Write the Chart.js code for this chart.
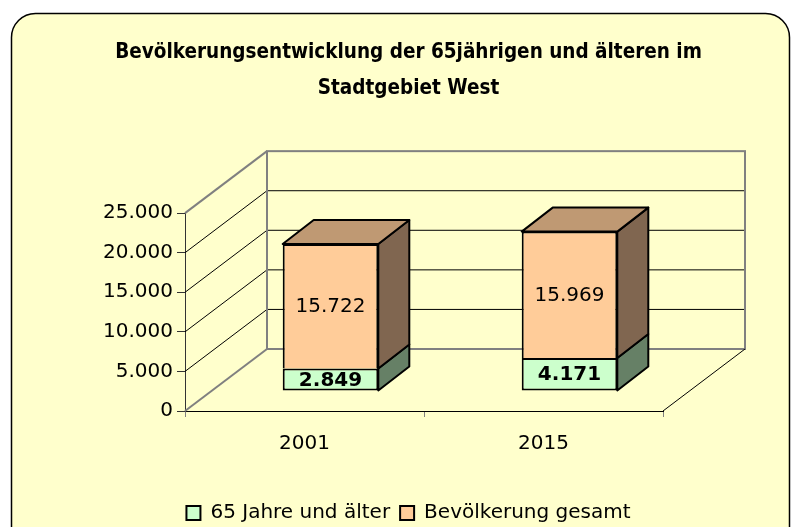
<!DOCTYPE html>
<html>
<head>
<meta charset="utf-8">
<style>
  body { margin: 0; background: #fff; }
</style>
</head>
<body>
<canvas id="myChart" width="797" height="527"></canvas>
<script src="https://cdn.jsdelivr.net/npm/chart.js"></script>
<script>
const years = ['2001', '2015'];
const senioren = [2849, 4171];
const gesamt = [15722, 15969];
const yTicks = [0, 5000, 10000, 15000, 20000, 25000];
const titleLines = ['Bevölkerungsentwicklung der 65jährigen und älteren im', 'Stadtgebiet West'];
const seriesNames = ['65 Jahre und älter', 'Bevölkerung gesamt'];

// colours per series: front, top, side
const fronts = ['#CCFFCC', '#FFCC99'];
const tops = ['#99BF99', '#BF9973'];
const sides = ['#668066', '#806650'];

// 3d look (offsets in px)
const DEPTH = { x: 82, y: -62 };     // back wall
const BAR_POS = { x: 26, y: -20 };   // bars stand a bit into the floor
const BAR_DEPTH = { x: 31, y: -24 }; // thickness of a bar

function fmt(v) {
  return String(v).replace(/\B(?=(\d{3})+(?!\d))/g, '.');
}

function poly(ctx, pts) {
  ctx.beginPath();
  ctx.moveTo(pts[0][0], pts[0][1]);
  for (let i = 1; i < pts.length; i++) ctx.lineTo(pts[i][0], pts[i][1]);
  ctx.closePath();
}

const threeD = {
  id: 'threeD',
  beforeDraw(chart) {
    const ctx = chart.ctx;
    ctx.save();
    ctx.fillStyle = '#fff';
    ctx.fillRect(0, 0, chart.width, chart.height);
    ctx.beginPath();
    ctx.roundRect(11.5, 13.5, 778, 580, 24);
    ctx.fillStyle = '#FFFFCC';
    ctx.fill();
    ctx.lineWidth = 1.5;
    ctx.strokeStyle = '#000';
    ctx.stroke();
    ctx.restore();
  },
  beforeDatasetsDraw(chart) {
    const ctx = chart.ctx;
    const xs = chart.scales.x, ys = chart.scales.y;
    const l = xs.left, r = xs.right;
    const y0 = ys.getPixelForValue(yTicks[0]);
    const yTop = ys.getPixelForValue(yTicks[yTicks.length - 1]);
    ctx.save();
    yTicks.forEach(function(v, i) {
      const py = ys.getPixelForValue(v);
      const edge = i === 0 || i === yTicks.length - 1;
      ctx.beginPath();
      ctx.moveTo(l, py);
      ctx.lineTo(l + DEPTH.x, py + DEPTH.y);
      if (!edge) ctx.lineTo(r + DEPTH.x, py + DEPTH.y);
      ctx.lineWidth = edge ? 2 : 1;
      ctx.strokeStyle = edge ? '#808080' : '#000';
      ctx.stroke();
    });
    ctx.strokeStyle = '#808080';
    ctx.lineWidth = 2;
    ctx.strokeRect(l + DEPTH.x, yTop + DEPTH.y, r - l, y0 - yTop);
    ctx.beginPath();
    ctx.moveTo(r, y0);
    ctx.lineTo(r + DEPTH.x, y0 + DEPTH.y);
    ctx.lineWidth = 1;
    ctx.strokeStyle = '#000';
    ctx.stroke();
    ctx.restore();

    // front faces are drawn by chart.js, shifted into the floor
    ctx.save();
    ctx.translate(BAR_POS.x, BAR_POS.y);
  },
  afterDatasetsDraw(chart) {
    const ctx = chart.ctx;
    const n = chart.data.datasets.length;
    const labels = [];
    chart.data.datasets.forEach(function(ds, di) {
      chart.getDatasetMeta(di).data.forEach(function(bar, i) {
        const p = bar.getProps(['x', 'y', 'base', 'width'], true);
        const left = p.x - p.width / 2, right = p.x + p.width / 2;
        const top = Math.min(p.y, p.base), bottom = Math.max(p.y, p.base);
        ctx.lineWidth = 2;
        ctx.strokeStyle = '#000';
        ctx.lineJoin = 'round';
        poly(ctx, [[right, top], [right + BAR_DEPTH.x, top + BAR_DEPTH.y],
                   [right + BAR_DEPTH.x, bottom + BAR_DEPTH.y], [right, bottom]]);
        ctx.fillStyle = sides[di];
        ctx.fill();
        ctx.stroke();
        if (di === n - 1) {
          poly(ctx, [[left, top], [left + BAR_DEPTH.x, top + BAR_DEPTH.y],
                     [right + BAR_DEPTH.x, top + BAR_DEPTH.y], [right, top]]);
          ctx.fillStyle = tops[di];
          ctx.fill();
          ctx.stroke();
        }
        labels.push({ x: p.x, y: (top + bottom) / 2, text: fmt(ds.data[i]), bold: di === 0 });
      });
    });
    ctx.fillStyle = '#000';
    ctx.textAlign = 'center';
    ctx.textBaseline = 'middle';
    labels.forEach(function(lb) {
      ctx.font = (lb.bold ? 'bold ' : '') + '20px "DejaVu Sans"';
      ctx.fillText(lb.text, lb.x, lb.y + 1);
    });
    ctx.restore();
  }
};

const data = {
  labels: years,
  datasets: [
    {
      label: seriesNames[0],
      data: senioren,
      backgroundColor: fronts[0],
      borderColor: '#000',
      borderWidth: 2,
      borderSkipped: false,
      barPercentage: 0.4,
      categoryPercentage: 1.0
    },
    {
      label: seriesNames[1],
      data: gesamt,
      backgroundColor: fronts[1],
      borderColor: '#000',
      borderWidth: 2,
      borderSkipped: 'start',
      barPercentage: 0.4,
      categoryPercentage: 1.0
    }
  ]
};

const config = {
  type: 'bar',
  data: data,
  plugins: [threeD],
  options: {
    responsive: false,
    animation: false,
    layout: { padding: { left: 20, right: 0, top: 0, bottom: 0 } },
    plugins: {
      title: {
        display: true,
        text: titleLines,
        color: '#000',
        font: { family: '"DejaVu Sans Condensed", "DejaVu Sans"', size: 20.5, weight: 'bold', lineHeight: 1.76 },
        padding: { top: 35, bottom: 106 }
      },
      legend: {
        position: 'bottom',
        maxHeight: 34,
        labels: {
          color: '#000',
          boxWidth: 14,
          boxHeight: 14,
          padding: 10,
          font: { family: '"DejaVu Sans"', size: 20 }
        }
      },
      tooltip: { enabled: false }
    },
    scales: {
      x: {
        stacked: true,
        grid: { drawOnChartArea: false, tickLength: 6, color: '#808080', offset: true },
        border: { color: '#000', width: 1 },
        ticks: { color: '#000', padding: 15, font: { family: '"DejaVu Sans"', size: 20 } },
        afterFit: function(scale) { scale.height = 82; }
      },
      y: {
        stacked: true,
        min: 0,
        max: 25000,
        grid: { drawOnChartArea: false, tickLength: 8, color: '#333' },
        border: { color: '#333', width: 1 },
        ticks: {
          stepSize: 5000,
          color: '#000',
          padding: 4,
          font: { family: '"DejaVu Sans"', size: 20 },
          callback: function(v) { return fmt(v); }
        },
        afterFit: function(scale) { scale.width = 165; }
      },
      // empty right axis keeps room for the back wall
      y2: {
        position: 'right',
        grid: { display: false },
        border: { display: false },
        ticks: { display: false },
        afterFit: function(scale) { scale.width = 134; }
      }
    }
  }
};

new Chart('myChart', config);
</script>
</body>
</html>
